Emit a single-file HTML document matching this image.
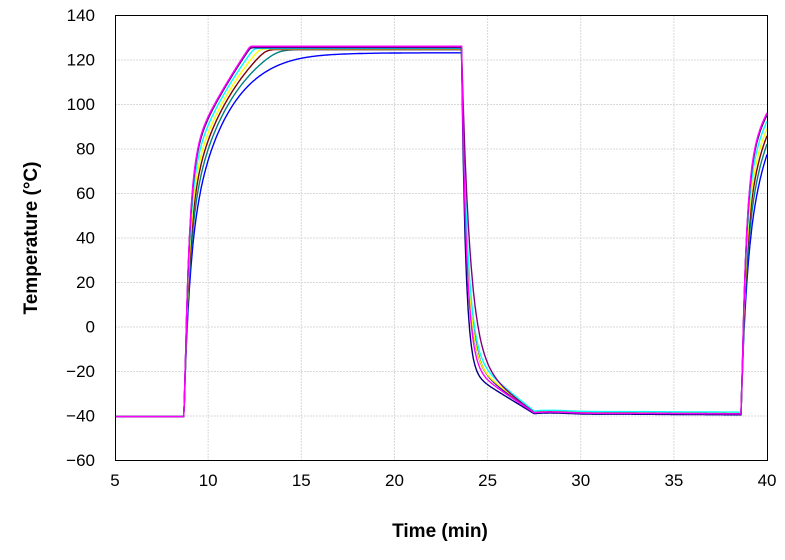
<!DOCTYPE html>
<html><head><meta charset="utf-8"><style>
body{margin:0;background:#fff;width:785px;height:560px;overflow:hidden}
svg{display:block}
text{font-family:"Liberation Sans",sans-serif}
</style></head><body>
<svg id="s" width="785" height="560" viewBox="0 0 785 560">
<rect x="0" y="0" width="785" height="560" fill="#fff"/>
<g id="grid" stroke="#d9d9d9" stroke-width="1" stroke-dasharray="2,1"></g>
<g id="lines" fill="none" stroke-width="1.4"></g>
<rect x="115.5" y="15.5" width="652" height="445" fill="none" stroke="#000" stroke-width="1"/>
<g id="labels" font-size="17" fill="#000"></g>
<text x="440" y="537" font-size="19" font-weight="bold" text-anchor="middle">Time (min)</text>
<text transform="translate(37,238) rotate(-90)" font-size="19" font-weight="bold" text-anchor="middle">Temperature (°C)</text>
</svg>
<script>
var NS="http://www.w3.org/2000/svg";
function X(t){return 115+(t-5)*18.63;}
function Y(v){return 15+(140-v)*2.225;}
var g=document.getElementById('grid'),lb=document.getElementById('labels'),L=document.getElementById('lines');
function el(p,tag,a,txt){var e=document.createElementNS(NS,tag);for(var k in a)e.setAttribute(k,a[k]);if(txt!==undefined)e.textContent=txt;p.appendChild(e);return e;}
for(var v=-60;v<=140;v+=20){var y=Y(v);if(v>-60&&v<140)el(g,'line',{x1:115,x2:767,y1:y+.5,y2:y+.5});
 el(lb,'text',{x:95,y:y+6,'text-anchor':'end'},v<0?'\u2212'+(-v):''+v);}
for(var t=5;t<=40;t+=5){var x=X(t);if(t>5&&t<40)el(g,'line',{x1:x,x2:x,y1:15,y2:460});
 el(lb,'text',{x:x,y:486,'text-anchor':'middle'},''+t);}
function fast(dt){return -10+86*(1-Math.exp(-dt/0.25))+200*(1-Math.exp(-dt/12));}
function slow(dt){return -15+50*(1-Math.exp(-dt/0.3))+90*(1-Math.exp(-dt/2.0));}
// color, w, clip, k, B, T, tauF, low
var S=[
 ['#0000ff',0,124,2.0, 24,3.9,0.32,-39],
 ['#008080',0.25,124.5,1.5, 24,3.9,0.30,-38.5],
 ['#800000',0.45,124.5,1.2, 24,3.9,0.30,-38.5],
 ['#ffff00',0.62,124.8,1.0, 24,3.9,0.30,-38.3],
 ['#00ffff',0.8,125,0.8, 26,3.9,0.33,-38],
 ['#000080',0.95,125.3,0.5, 20,3.9,0.22,-39.2],
 ['#800080',0.97,125.6,0.5, 25,3.9,0.45,-38.7],
 ['#ff00ff',1,126,0.4, 22,3.9,0.27,-38.8]
];
S.forEach(function(s){
 var c=s[0],w=s[1],clip=s[2],k=s[3],B=s[4],T=s[5],tf=s[6],low=s[7],d='';
 function rise(t0,t){var dt=t-t0;var v=w*fast(dt)+(1-w)*slow(dt);
  return -k*Math.log(Math.exp(-v/k)+Math.exp(-clip/k));}
 var v0=w*-10+(1-w)*-15;
 var top=rise(8.8,23.6);
 for(var t=5;t<=40.001;t+=0.04){
  var v;
  if(t<8.7)v=-40.5;
  else if(t<8.8)v=-40.5+(v0+40.5)*(t-8.7)/0.1;
  else if(t<23.6)v=rise(8.8,t);
  else if(t<23.6+T){var dt=t-23.6;var Af=top-low-B;v=low+Af*Math.exp(-dt/tf)+B*(1-dt/T);}
  else if(t<38.6){v=low+0.8*Math.sin((t-27.5)*1.2)*Math.exp(-(t-27.5)/1.5)-0.5*(t-27.5)/11;}
  else if(t<38.7)v=-40+(v0+40)*(t-38.6)/0.1;
  else v=rise(38.7,t);
  d+=(d?'L':'M')+X(t).toFixed(1)+','+Y(v).toFixed(1);
 }
 el(L,'path',{d:d,stroke:c});
});
</script>
</body></html>
